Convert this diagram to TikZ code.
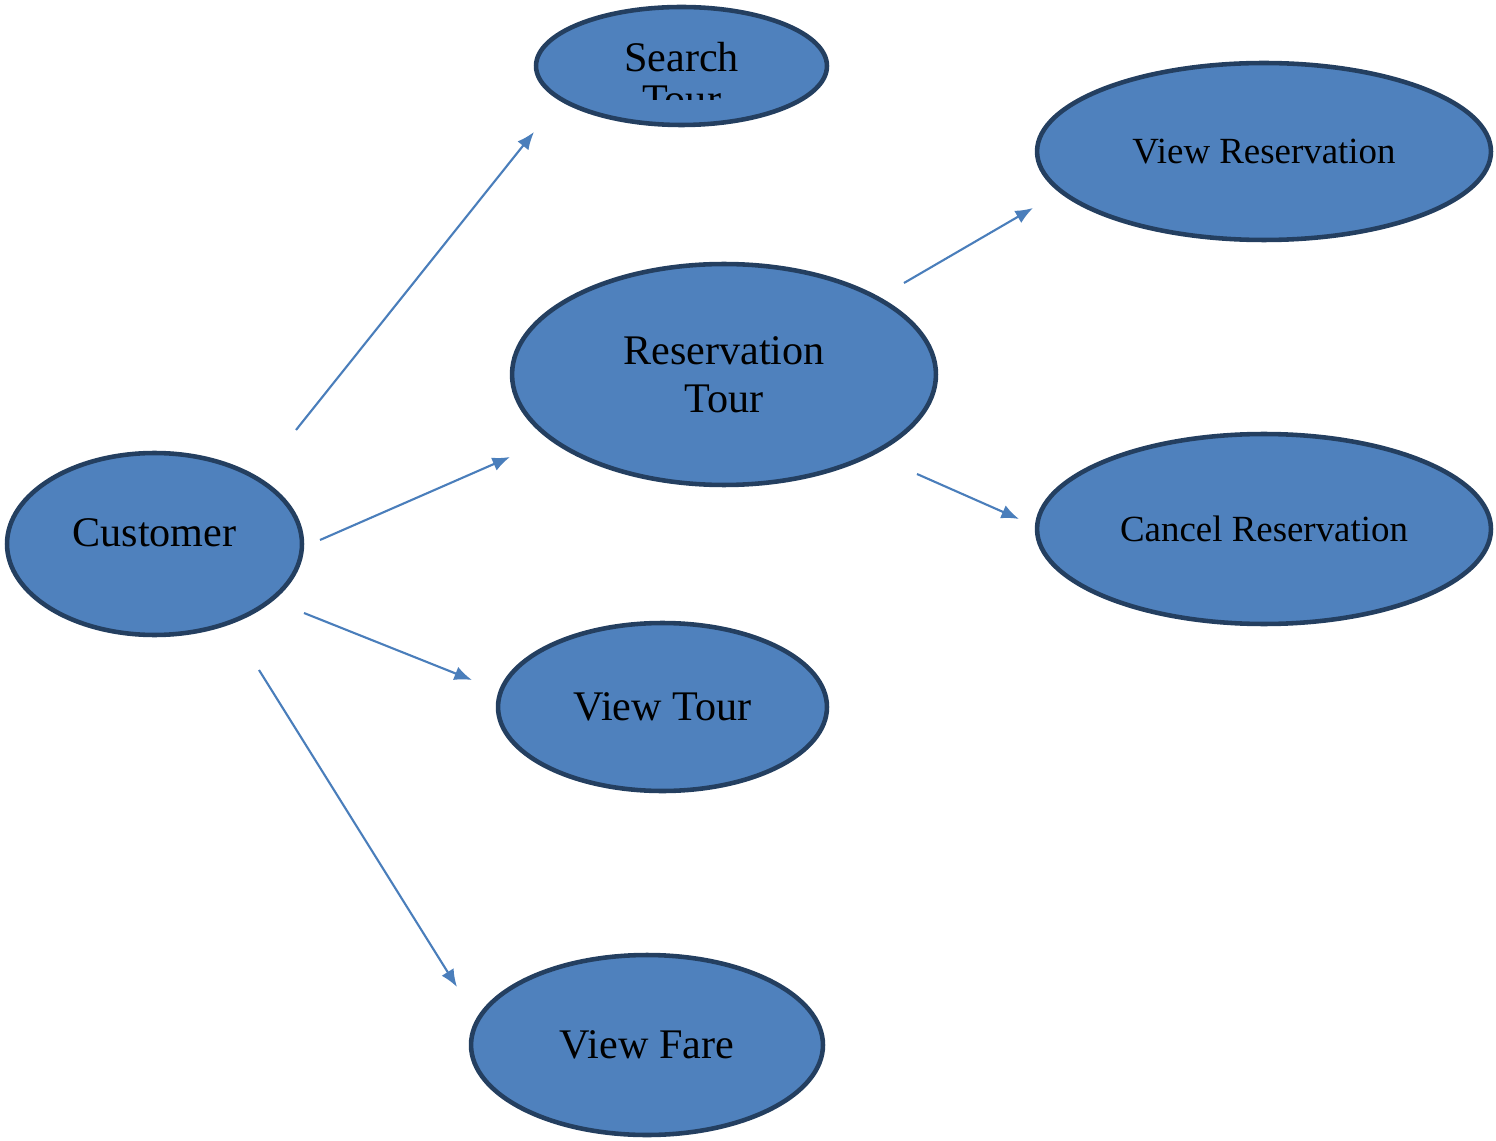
\documentclass[tikz,border=0pt]{standalone}
\usepackage{fontspec}
\setmainfont{Liberation Serif}
\usetikzlibrary{shapes.geometric,arrows.meta}
\definecolor{ucfill}{HTML}{4F81BD}
\definecolor{ucdraw}{HTML}{243F60}
\definecolor{linkblue}{HTML}{4A7EBB}

\begin{document}
\begin{tikzpicture}[x=0.02cm,y=-0.02cm,
        usecase/.style={ellipse,draw=ucdraw,fill=ucfill,line width=2.6pt,inner sep=0pt,align=center,font=\fontsize{24}{27.5}\selectfont},
        smallcase/.style={usecase,font=\fontsize{21}{25}\selectfont},
        link/.style={linkblue,line width=1.2pt,->,>={Latex[length=10pt,width=8pt]}}]
                \useasboundingbox (0,0) rectangle (1496,1141);
                \node[usecase,minimum width=5.82cm,minimum height=2.36cm] (search) at (681.5,66) {};
                \begin{scope}
                    \clip (533,0) rectangle (830,100);
                    \node[align=center,font=\fontsize{24}{24}\selectfont] (searchtext) at (681.5,78) {Search\\Tour};
                \end{scope}
                \node[smallcase,minimum width=9.08cm,minimum height=3.54cm] (viewres) at (1264,151.5) {View Reservation};
                \node[usecase,minimum width=8.48cm,minimum height=4.42cm] (restour) at (724,374.5) {Reservation\\Tour};
                \node[smallcase,minimum width=9.08cm,minimum height=3.80cm] (cancelres) at (1264,529) {Cancel Reservation};
                \node[usecase,minimum width=5.90cm,minimum height=3.64cm] (customer) at (154.5,544) {\raisebox{0.45cm}{Customer}};
                \node[usecase,minimum width=6.58cm,minimum height=3.36cm] (viewtour) at (662.5,707) {View Tour};
                \node[usecase,minimum width=7.04cm,minimum height=3.60cm] (viewfare) at (647,1045) {\raisebox{-0.12cm}{View Fare}};
                % loose ends of the arrows
                \coordinate (cs1) at (296,430);  \coordinate (ce1) at (534,132);
                \coordinate (cs2) at (320,540);  \coordinate (ce2) at (510,457);
                \coordinate (cs3) at (304,613);  \coordinate (ce3) at (472,680);
                \coordinate (cs4) at (259,670);  \coordinate (ce4) at (457,987);
                \coordinate (rs1) at (904,283);  \coordinate (re1) at (1033,208);
                \coordinate (rs2) at (917,474);  \coordinate (re2) at (1019,519);
                \draw[link] (cs1)--(ce1);
                \draw[link] (cs2)--(ce2);
                \draw[link] (cs3)--(ce3);
                \draw[link] (cs4)--(ce4);
                \draw[link] (rs1)--(re1);
                \draw[link] (rs2)--(re2);
            \end{tikzpicture}
\end{document}
